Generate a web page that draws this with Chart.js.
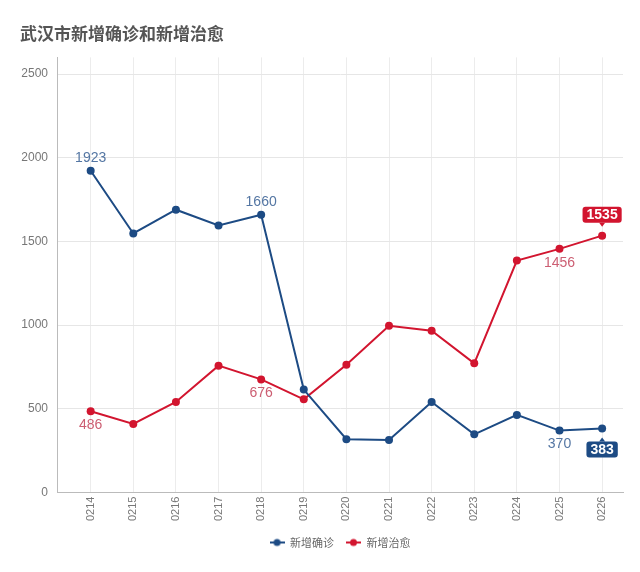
<!DOCTYPE html>
<html>
<head>
<meta charset="utf-8">
<script src="https://cdn.jsdelivr.net/npm/chart.js@4/dist/chart.umd.min.js"></script>
<style>
  body { margin: 0; background: #fff; }
  #wrap { width: 640px; height: 572px; }
</style>
</head>
<body>
<div id="wrap"><canvas id="myChart" width="640" height="572"></canvas></div>
<script>
// 日期
const dates = ['0214','0215','0216','0217','0218','0219','0220','0221','0222','0223','0224','0225','0226'];
// 新增确诊
const confirmed = [1923, 1548, 1690, 1596, 1660, 615, 319, 314, 541, 348, 464, 370, 383];
// 新增治愈
const cured = [486, 410, 541, 758, 676, 557, 764, 997, 967, 772, 1386, 1456, 1535];
const yTicks = [0, 500, 1000, 1500, 2000, 2500];

const blue = '#1d4b84';
const red = '#d2152f';

// which points get a value label
const marks = [
    {ds: 0, i: 0, side: 'up'},
    {ds: 0, i: 4, side: 'up'},
    {ds: 0, i: 11, side: 'down'},
    {ds: 0, i: 12, side: 'down', badge: true},
    {ds: 1, i: 0, side: 'down'},
    {ds: 1, i: 4, side: 'down'},
    {ds: 1, i: 11, side: 'down'},
    {ds: 1, i: 12, side: 'up', badge: true}
];
const labelColors = ['#5476a3', '#cc5e72'];
const badgeColors = [blue, red];

function legendIcon(color) {
    const c = document.createElement('canvas');
    c.width = 15; c.height = 10;
    const g = c.getContext('2d');
    g.strokeStyle = color;
    g.lineWidth = 2;
    g.beginPath(); g.moveTo(0, 5); g.lineTo(15, 5); g.stroke();
    g.fillStyle = color;
    g.beginPath(); g.arc(7.5, 5, 3.5, 0, Math.PI * 2); g.fill();
    return c;
}
const icons = [legendIcon(blue), legendIcon(red)];

// legend is centred over the plot area, not the whole canvas
const shiftLegend = {
    id: 'shiftLegend',
    afterLayout(chart) {
        const a = chart.chartArea;
        const lg = chart.legend;
        const d = (a.left + a.right) / 2 - (lg.left + lg.right) / 2;
        lg.left += d;
        lg.right += d;
    }
};

const valueLabels = {
    id: 'valueLabels',
    afterDatasetsDraw(chart) {
        const ctx = chart.ctx;
        marks.forEach(m => {
            const pt = chart.getDatasetMeta(m.ds).data[m.i];
            const v = chart.data.datasets[m.ds].data[m.i].y;
            const txt = String(v);
            ctx.save();
            ctx.textAlign = 'center';
            ctx.textBaseline = 'middle';
            if (m.badge) {
                ctx.font = 'bold 14px "Liberation Sans"';
                const w = ctx.measureText(txt).width + 8;
                const h = 16;
                const dir = m.side === 'up' ? -1 : 1;
                const cy = pt.y + dir * 21;
                ctx.fillStyle = badgeColors[m.ds];
                ctx.beginPath();
                ctx.roundRect(pt.x - w / 2, cy - h / 2, w, h, 3);
                ctx.fill();
                // little pointer toward the point
                const by = cy - dir * (h / 2);
                ctx.beginPath();
                ctx.moveTo(pt.x - 3, by);
                ctx.lineTo(pt.x + 3, by);
                ctx.lineTo(pt.x, by - dir * 4);
                ctx.closePath();
                ctx.fill();
                ctx.fillStyle = '#fff';
                ctx.fillText(txt, pt.x, cy + 1);
            } else {
                ctx.font = '14px "Liberation Sans"';
                ctx.fillStyle = labelColors[m.ds];
                const dy = m.side === 'up' ? -13 : 14;
                ctx.fillText(txt, pt.x, pt.y + dy);
            }
            ctx.restore();
        });
    }
};

const ctx = document.getElementById('myChart').getContext('2d');
const myChart = new Chart(ctx, {
    type: 'line',
    data: {
        datasets: [{
            label: '新增确诊',
            data: confirmed.map((v, i) => ({x: i, y: v})),
            borderColor: blue,
            backgroundColor: blue,
            borderWidth: 2,
            pointRadius: 4,
            pointBorderWidth: 0,
            tension: 0
        }, {
            label: '新增治愈',
            data: cured.map((v, i) => ({x: i, y: v})),
            borderColor: red,
            backgroundColor: red,
            borderWidth: 2,
            pointRadius: 4,
            pointBorderWidth: 0,
            tension: 0
        }]
    },
    options: {
        responsive: false,
        animation: false,
        layout: { padding: { left: 20, right: 17, bottom: 14 } },
        plugins: {
            title: {
                display: true,
                text: '武汉市新增确诊和新增治愈',
                align: 'start',
                color: '#555',
                font: { size: 17, weight: 'bold', family: '"Noto Sans CJK SC"' },
                padding: { top: 23, bottom: 14 }
            },
            legend: {
                position: 'bottom',
                labels: {
                    usePointStyle: true,
                    pointStyleWidth: 15,
                    color: '#666',
                    font: { size: 11, family: '"Noto Sans CJK SC"' },
                    padding: 12,
                    generateLabels(chart) {
                        return chart.data.datasets.map((d, i) => ({
                            text: d.label,
                            pointStyle: icons[i],
                            fontColor: '#666',
                            strokeStyle: d.borderColor,
                            fillStyle: d.backgroundColor,
                            lineWidth: 0,
                            datasetIndex: i
                        }));
                    }
                }
            },
            tooltip: { enabled: false }
        },
        scales: {
            x: {
                type: 'linear',
                min: -0.79,
                max: 12.49,
                afterBuildTicks(scale) {
                    scale.ticks = dates.map((d, i) => ({value: i}));
                },
                ticks: {
                    minRotation: 90,
                    maxRotation: 90,
                    color: '#777',
                    font: { size: 11, family: '"Liberation Sans"' },
                    padding: 4,
                    callback: (v) => dates[v]
                },
                grid: { color: '#ececec', drawTicks: false },
                border: { color: '#bbb', width: 1 }
            },
            y: {
                min: 0,
                max: 2600,
                afterBuildTicks(scale) {
                    scale.ticks = yTicks.map(v => ({value: v}));
                },
                afterFit(scale) {
                    scale.width = 37;
                },
                ticks: {
                    color: '#777',
                    font: { size: 12, family: '"Liberation Sans"' },
                    padding: 9,
                    callback: (v) => String(v)
                },
                grid: { color: '#e6e6e6', drawTicks: false },
                border: { color: '#bbb', width: 1 }
            }
        }
    },
    plugins: [shiftLegend, valueLabels]
});
</script>
</body>
</html>
